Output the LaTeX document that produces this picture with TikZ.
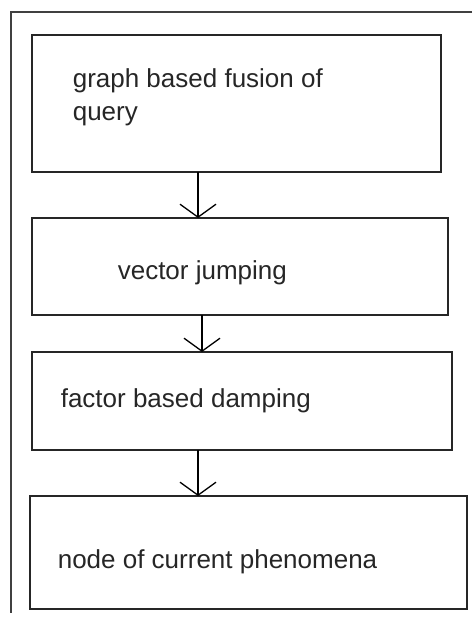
\documentclass[tikz,border=0pt]{standalone}
\usepackage{fontspec}
\setmainfont{Liberation Sans}
\usetikzlibrary{calc,arrows.meta}

\begin{document}
\begin{tikzpicture}[x=1pt,y=-1pt,line width=1.6pt,
  >={Straight Barb[length=13pt,width=36pt,line width=1.3pt]},
  etapa/.style={draw=black!85,rectangle,inner sep=0pt,outer sep=0pt},
  texto/.style={inner sep=0pt,font=\fontsize{26}{33}\selectfont,align=left,text=black!85}]
  \useasboundingbox (0,0) rectangle (472,623);
  \draw[black!75,line width=1.8pt] (472,12)--(11,12)--(11,613);   % marco
  \node[etapa,minimum width=409pt,minimum height=137pt] (fusion) at (236.5,103.5) {};
  \node[etapa,minimum width=416pt,minimum height=97pt] (jump) at (240,266.5) {};
  \node[etapa,minimum width=420pt,minimum height=98pt] (damp) at (242,401) {};
  \node[etapa,minimum width=437pt,minimum height=113pt] (pheno) at (248.5,552.5) {};
  \node[texto,anchor=west] (fusiontxt) at (72,97) {graph based fusion of\\query};
  \node[texto,anchor=base west] (jumptxt) at (117,279) {vector jumping};
  \node[texto,anchor=base west] (damptxt) at (60,407) {factor based damping};
  \node[texto,anchor=base west] (phenotxt) at (57,568) {node of current phenomena};
  \coordinate (a1) at (198,0);              % ejes de flechas
  \coordinate (a2) at (202,0);
  \coordinate (a3) at (198,0);
  \draw[->] (fusion.south -| a1)--(jump.north -| a1);
  \draw[->] (jump.south -| a2)--(damp.north -| a2);
  \draw[->] (damp.south -| a3)--(pheno.north -| a3);
\end{tikzpicture}
\end{document}
